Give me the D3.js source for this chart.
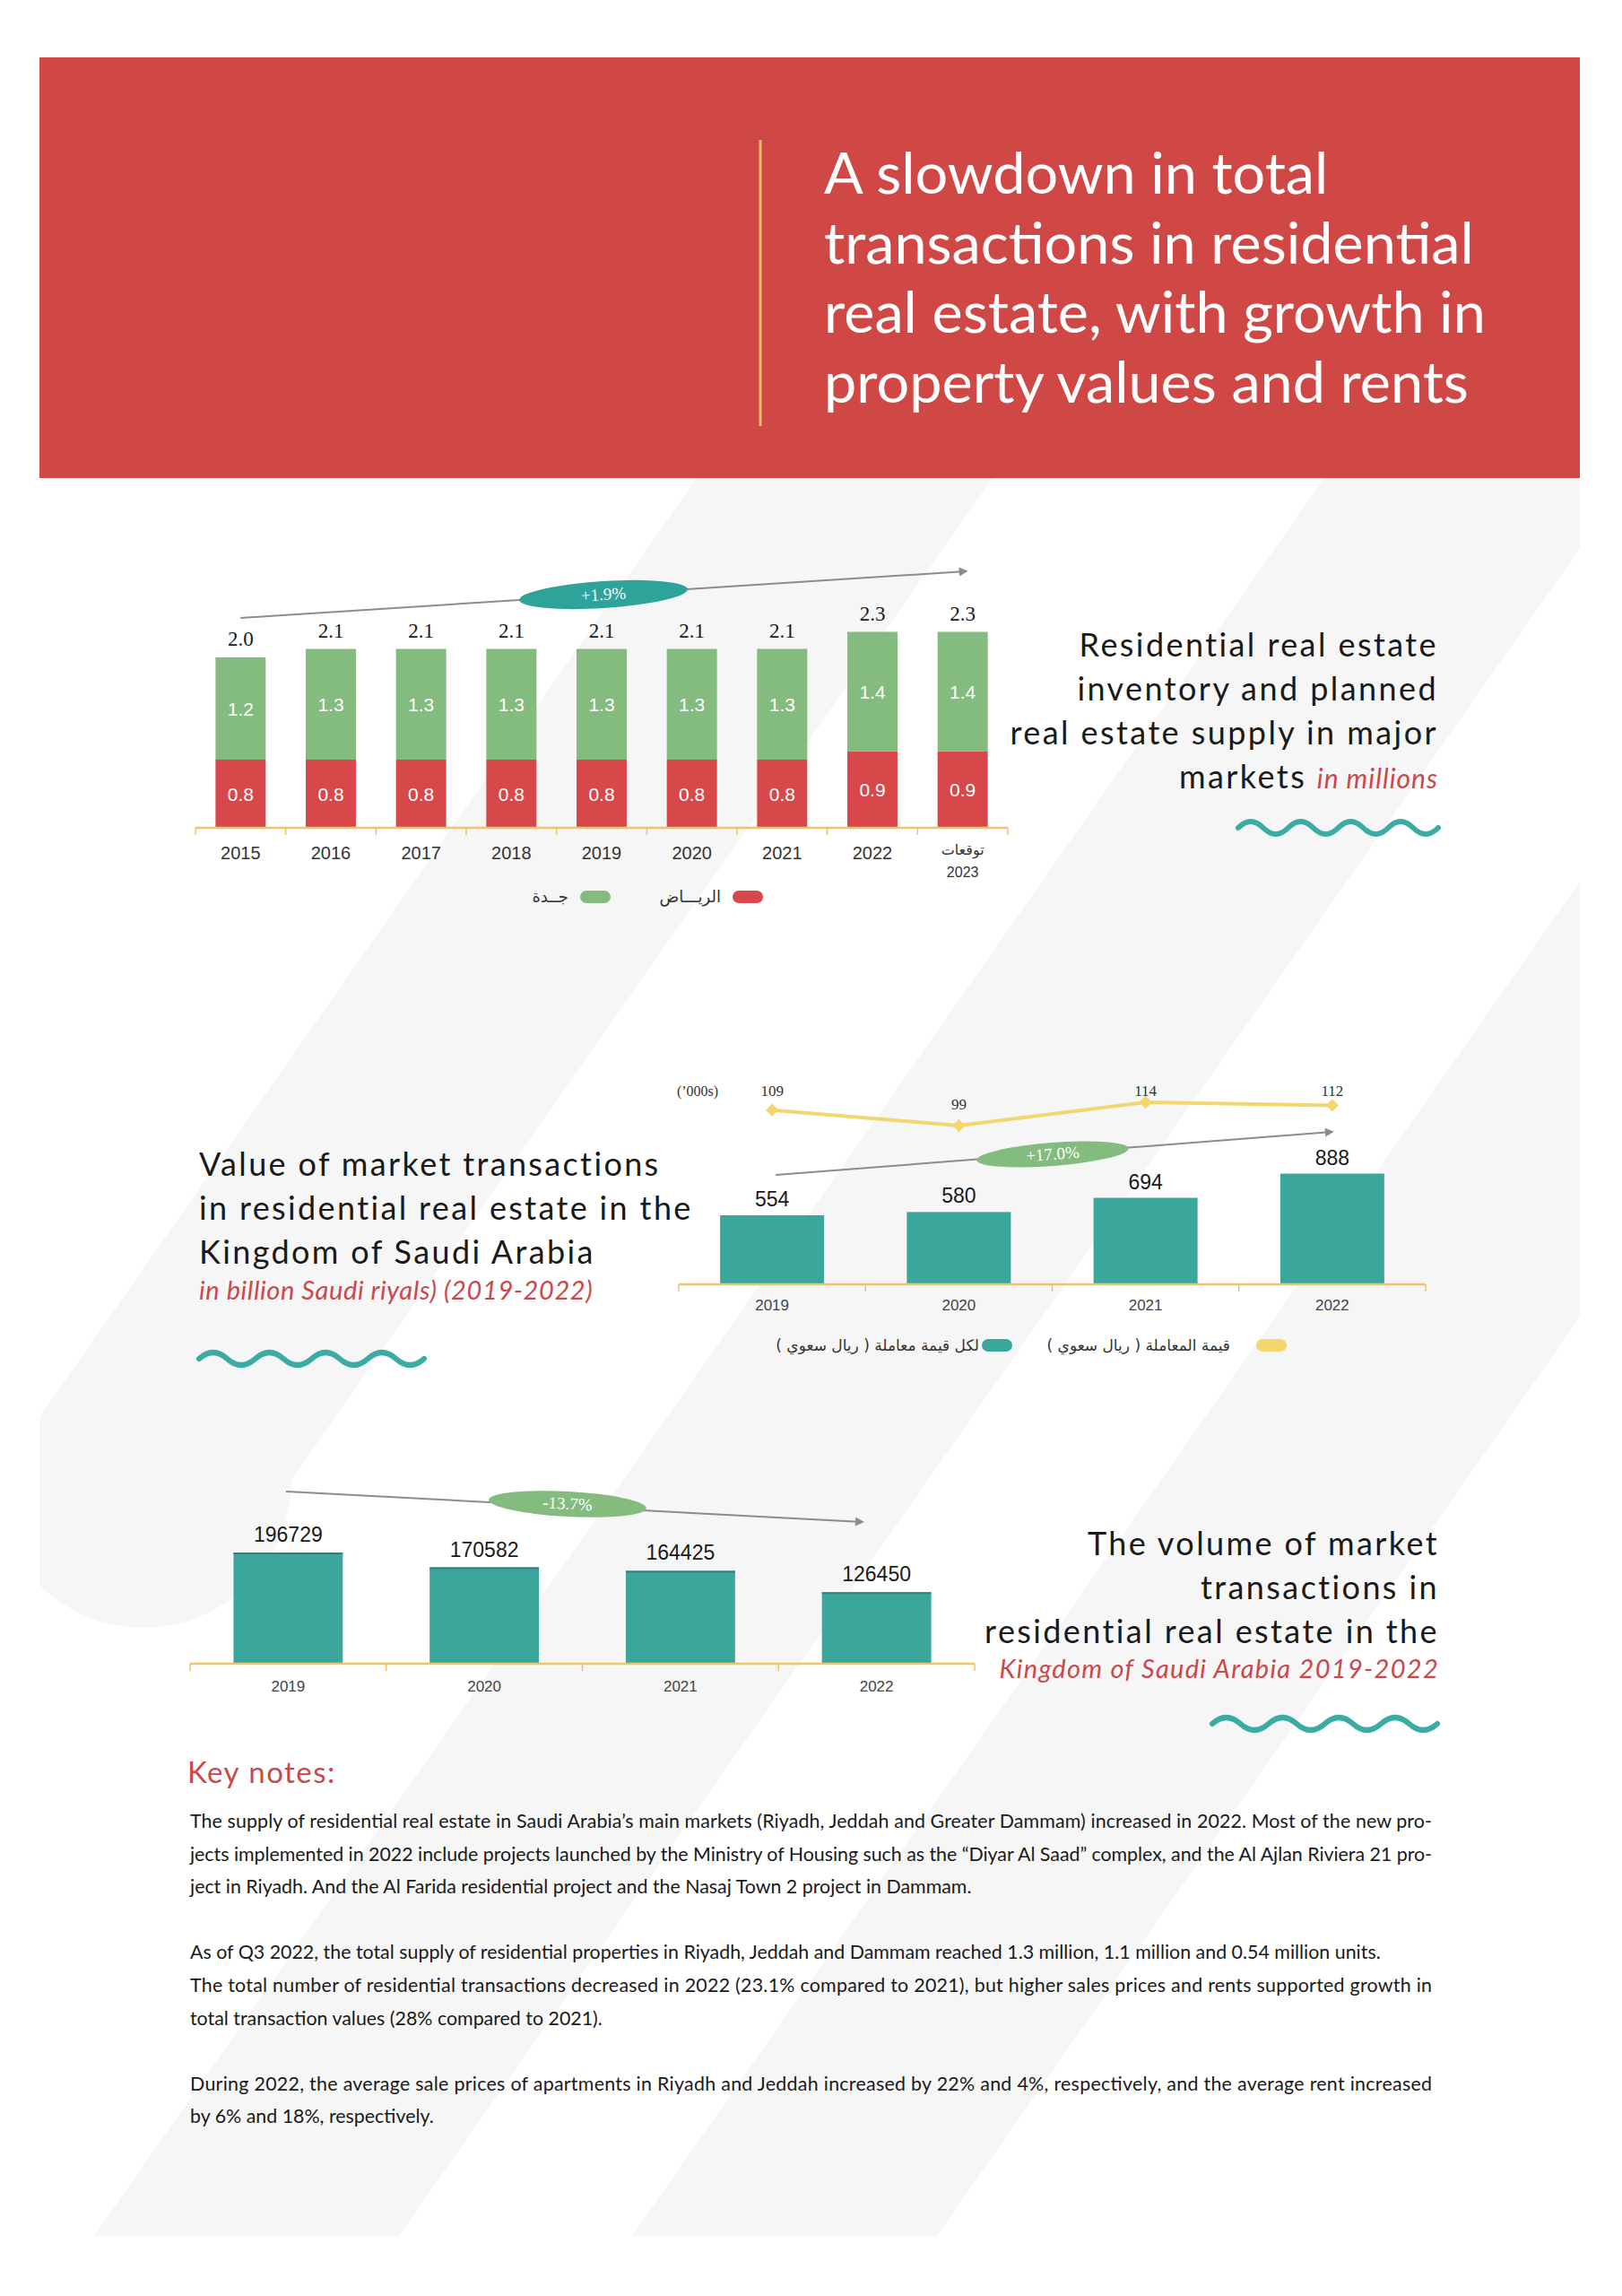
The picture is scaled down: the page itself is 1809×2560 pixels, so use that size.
<!DOCTYPE html>
<html>
<head>
<meta charset="utf-8">
<script src="https://cdn.jsdelivr.net/npm/d3@7"></script>
<style>
  body { margin: 0; background: #fff; }
  svg { display: block; }
</style>
</head>
<body>
<svg id="page" width="1809" height="2560"></svg>
<script>
// ---- data ----
const supplyYears = ['2015', '2016', '2017', '2018', '2019', '2020', '2021', '2022', '2023'];
const supplyYearLabels = [['2015'], ['2016'], ['2017'], ['2018'], ['2019'], ['2020'], ['2021'], ['2022'], ['توقعات', '2023']];
const riyadhSupply = [0.8, 0.8, 0.8, 0.8, 0.8, 0.8, 0.8, 0.9, 0.9];
const jeddahSupply = [1.2, 1.3, 1.3, 1.3, 1.3, 1.3, 1.3, 1.4, 1.4];
const supplyGrowth = '+1.9%';
const supplyLegend = ['الريـــاض', 'جــدة'];

const valueYears = ['2019', '2020', '2021', '2022'];
const transactionValue = [554, 580, 694, 888];      // billion SAR
const valuePerDeal = [109, 99, 114, 112];           // '000s SAR
const valueGrowth = '+17.0%';
const valueLegend = ['لكل قيمة معاملة ( ريال سعوي )', 'قيمة المعاملة ( ريال سعوي )'];

const volumeYears = ['2019', '2020', '2021', '2022'];
const transactionVolume = [196729, 170582, 164425, 126450];
const volumeGrowth = '-13.7%';

const headline = ['A slowdown in total', 'transactions in residential', 'real estate, with growth in', 'property values and rents'];

const notes = [
  ['The supply of residential real estate in Saudi Arabia\u2019s main markets (Riyadh, Jeddah and Greater Dammam) increased in 2022. Most of the new pro-', true],
  ['jects implemented in 2022 include projects launched by the Ministry of Housing such as the \u201cDiyar Al Saad\u201d complex, and the Al Ajlan Riviera 21 pro-', true],
  ['ject in Riyadh. And the Al Farida residential project and the Nasaj Town 2 project in Dammam.', false],
  null,
  ['As of Q3 2022, the total supply of residential properties in Riyadh, Jeddah and Dammam reached 1.3 million, 1.1 million and 0.54 million units.', false],
  ['The total number of residential transactions decreased in 2022 (23.1% compared to 2021), but higher sales prices and rents supported growth in', true],
  ['total transaction values (28% compared to 2021).', false],
  null,
  ['During 2022, the average sale prices of apartments in Riyadh and Jeddah increased by 22% and 4%, respectively, and the average rent increased', true],
  ['by 6% and 18%, respectively.', false]
];

// ---- palette ----
const C = {
  header: '#d04845', gold: '#f0c36a', red: '#d8474a', green: '#84bb7e',
  teal: '#3aa69c', tealDark: '#2c857d', wave: '#3aaca3', yellow: '#f3d66e',
  arrow: '#8c8c8c', ink: '#1a1a1a', label: '#333', accent: '#c9484b', stripe: '#f6f6f6'
};
const SANS = 'Lato, "Open Sans", sans-serif';
const NUM = '"Liberation Sans", Arial, sans-serif';
const SERIF = '"Liberation Serif", "Times New Roman", serif';
const AR = '"DejaVu Sans", sans-serif';

const svg = d3.select('#page');
const defs = svg.append('defs');

defs.append('marker')
  .attr('id', 'arrow')
  .attr('viewBox', '0 0 10 10')
  .attr('refX', 8).attr('refY', 5)
  .attr('markerWidth', 12).attr('markerHeight', 10)
  .attr('markerUnits', 'userSpaceOnUse')
  .attr('orient', 'auto')
  .append('path').attr('d', 'M0,0 L10,5 L0,10 z').attr('fill', C.arrow);

defs.append('clipPath').attr('id', 'pageClip')
  .append('rect').attr('x', 44).attr('y', 533).attr('width', 1718).attr('height', 1960);

// ---- background stripes (decoration): [u0, u1, bottom y] along x + 0.7y ----
const stripes = [[1150, 1480, 1650], [1850, 2190, 2493], [2450, 2790, 2493]];
svg.append('g').attr('clip-path', 'url(#pageClip)')
  .selectAll('path').data(stripes).join('path')
  .attr('fill', C.stripe)
  .attr('d', ([u1, u2, yb]) => {
    const r = (u2 - u1) / 2;
    const end = yb < 2493 ? `A${r},${r} 0 0 1 ${u1 - 0.7 * yb},${yb}` : `L${u1 - 0.7 * yb},${yb}`;
    return `M${u1 - 0.7 * 533},533 L${u2 - 0.7 * 533},533 L${u2 - 0.7 * yb},${yb} ${end} Z`;
  });

// ---- helpers ----
function fitFont(group, node, target) {
  const size = +group.attr('font-size');
  const w = node.getComputedTextLength();
  group.attr('font-size', (size * target / w).toFixed(2));
}

function fitSpacing(group, node, target) {
  const w = node.getComputedTextLength();
  const n = Math.max(1, node.getNumberOfChars() - 1);
  group.attr('letter-spacing', ((target - w) / n).toFixed(2));
}

function wave(x0, x1, y, periods) {
  const half = (x1 - x0) / (periods * 2), amp = 7;
  let d = `M${x0},${y}`;
  for (let i = 0; i < periods * 2; i++) {
    const cx = x0 + (i + 0.5) * half, ex = x0 + (i + 1) * half;
    d += ` Q${cx},${y + (i % 2 ? 2 * amp : -2 * amp)} ${ex},${y}`;
  }
  svg.append('path').attr('d', d).attr('fill', 'none')
    .attr('stroke', C.wave).attr('stroke-width', 6).attr('stroke-linecap', 'round');
}

function titleBlock(lines, x, anchor, baselines, size, accentSize, fitLine, fitWidth, accentSpacing) {
  const g = svg.append('g').attr('font-family', SANS).attr('text-anchor', anchor);
  const nodes = [];
  lines.forEach((parts, i) => {
    const t = g.append('text').attr('x', x).attr('y', baselines[i]);
    parts.forEach(p => {
      const span = t.append('tspan').text(p[0]);
      if (p[1]) span.attr('fill', C.accent).attr('font-style', 'italic').attr('font-size', accentSize)
        .attr('letter-spacing', accentSpacing);
      else span.attr('fill', C.ink).attr('font-size', size);
    });
    nodes.push(t.node());
  });
  fitSpacing(g, nodes[fitLine], fitWidth);
  return g;
}

function trend(x1, y1, x2, y2, cx, cy, rx, ry, fill, label) {
  svg.append('line').attr('x1', x1).attr('y1', y1).attr('x2', x2).attr('y2', y2)
    .attr('stroke', C.arrow).attr('stroke-width', 2).attr('marker-end', 'url(#arrow)');
  const angle = Math.atan2(y2 - y1, x2 - x1) * 180 / Math.PI;
  const g = svg.append('g').attr('transform', `translate(${cx},${cy}) rotate(${angle})`);
  g.append('ellipse').attr('rx', rx).attr('ry', ry).attr('fill', fill);
  g.append('text').attr('y', 6).attr('text-anchor', 'middle')
    .attr('font-family', SERIF).attr('font-size', 19).attr('fill', '#fff').text(label);
}

function baseAxis(x, y0, ticksDown) {
  const g = svg.append('g');
  const [r0, r1] = x.range();
  g.append('line').attr('x1', r0).attr('x2', r1).attr('y1', y0).attr('y2', y0)
    .attr('stroke', C.gold).attr('stroke-width', 2.5);
  const bounds = x.domain().map(d => x(d) - x.step() * x.paddingInner() / 2).concat([r1]);
  g.selectAll('line.tick').data(bounds).join('line').attr('class', 'tick')
    .attr('x1', d => d).attr('x2', d => d).attr('y1', y0).attr('y2', y0 + ticksDown)
    .attr('stroke', C.gold).attr('stroke-width', 1.5);
}

function pill(x, y, color) {
  svg.append('rect').attr('x', x).attr('y', y - 7).attr('width', 34).attr('height', 14)
    .attr('rx', 7).attr('fill', color);
}

function arabic(x, y, text, size) {
  svg.append('text').attr('x', x).attr('y', y).attr('direction', 'rtl')
    .attr('text-anchor', 'start').attr('font-family', AR).attr('font-size', size)
    .attr('fill', C.label).text(text);
}

// ---- header ----
svg.append('rect').attr('x', 44).attr('y', 64).attr('width', 1718).attr('height', 469).attr('fill', C.header);
svg.append('line').attr('x1', 848).attr('x2', 848).attr('y1', 156).attr('y2', 475)
  .attr('stroke', C.gold).attr('stroke-width', 3);

const head = svg.append('g').attr('fill', '#fff').attr('font-family', SANS).attr('font-size', 62);
head.selectAll('text').data(headline).join('text')
  .attr('x', 919).attr('y', (d, i) => 216 + i * 77.5)
  .text(d => d);
fitFont(head, head.selectAll('text').filter((d, i) => i === 1).node(), 725);

// ---- chart 1: residential supply (stacked) ----
{
  const base = 923;
  const table = supplyYears.map((yr, i) => ({ year: yr, riyadh: riyadhSupply[i], jeddah: jeddahSupply[i] }));
  const series = d3.stack().keys(['riyadh', 'jeddah'])(table);
  const x = d3.scaleBand().domain(supplyYears).range([218, 1124]).paddingInner(0.444).paddingOuter(0.222);
  const y = d3.scaleLinear().domain([0, 2.4]).range([base, base - 2.4 * 95]);
  const colors = { riyadh: C.red, jeddah: C.green };

  const g = svg.append('g');
  g.selectAll('g.layer').data(series).join('g').attr('class', 'layer')
    .attr('fill', s => colors[s.key])
    .selectAll('rect').data(s => s).join('rect')
    .attr('x', d => x(d.data.year)).attr('width', x.bandwidth())
    .attr('y', d => y(d[1])).attr('height', d => y(d[0]) - y(d[1]));

  g.selectAll('g.vals').data(series).join('g').attr('class', 'vals')
    .selectAll('text').data(s => s.map(d => [d, s.key])).join('text')
    .attr('x', ([d]) => x(d.data.year) + x.bandwidth() / 2)
    .attr('y', ([d]) => (y(d[0]) + y(d[1])) / 2 + 8)
    .attr('text-anchor', 'middle').attr('font-family', NUM).attr('font-size', 21).attr('fill', '#fff')
    .text(([d, k]) => d.data[k].toFixed(1));

  g.selectAll('text.total').data(table).join('text').attr('class', 'total')
    .attr('x', d => x(d.year) + x.bandwidth() / 2)
    .attr('y', d => y(d.riyadh + d.jeddah) - 13)
    .attr('text-anchor', 'middle').attr('font-family', SERIF).attr('font-size', 23).attr('fill', C.ink)
    .text(d => (d.riyadh + d.jeddah).toFixed(1));

  baseAxis(x, base, 8);
  const lab = g.selectAll('text.year').data(supplyYears).join('text').attr('class', 'year')
    .attr('x', d => x(d) + x.bandwidth() / 2).attr('y', 958)
    .attr('text-anchor', 'middle').attr('fill', C.label);
  lab.each(function (d, i) {
    const parts = supplyYearLabels[i];
    const t = d3.select(this);
    if (parts.length === 1) {
      t.attr('font-family', NUM).attr('font-size', 20).text(parts[0]);
    } else {
      t.attr('y', 953);
      t.append('tspan').attr('font-family', AR).attr('font-size', 16).text(parts[0]);
      t.append('tspan').attr('x', x(d) + x.bandwidth() / 2).attr('dy', 25)
        .attr('font-family', NUM).attr('font-size', 16).text(parts[1]);
    }
  });

  trend(x(supplyYears[0]) + x.bandwidth() / 2, 689, x(supplyYears[8]) + x.bandwidth() / 2 + 4, 637,
    673, 663, 94, 15, '#2ea399', supplyGrowth);

  pill(817, 1000, C.red);
  arabic(804, 1006, supplyLegend[0], 18);
  pill(647, 1000, C.green);
  arabic(634, 1006, supplyLegend[1], 18);

  titleBlock([
    [['Residential real estate']],
    [['inventory and planned']],
    [['real estate supply in major']],
    [['markets '], ['in millions', true]]
  ], 1604, 'end', [732, 781, 830, 879], 36, 30, 2, 475, 1);
  wave(1381, 1604, 923, 4);
}

// ---- chart 2: value of transactions ----
{
  const base = 1432;
  const x = d3.scaleBand().domain(valueYears).range([757, 1590]).paddingInner(0.443).paddingOuter(0.2215);
  const y = d3.scaleLinear().domain([0, 1000]).range([base, base - 139]);
  const y2 = d3.scaleLinear().domain([90, 120]).range([1270.6, 1218.6]);
  const cx = d => x(d) + x.bandwidth() / 2;

  const g = svg.append('g');
  g.selectAll('rect').data(valueYears).join('rect')
    .attr('x', d => x(d)).attr('width', x.bandwidth())
    .attr('y', (d, i) => y(transactionValue[i])).attr('height', (d, i) => base - y(transactionValue[i]))
    .attr('fill', C.teal);
  g.selectAll('text.val').data(valueYears).join('text').attr('class', 'val')
    .attr('x', cx).attr('y', (d, i) => y(transactionValue[i]) - 10)
    .attr('text-anchor', 'middle').attr('font-family', NUM).attr('font-size', 23).attr('fill', C.ink)
    .text((d, i) => transactionValue[i]);

  baseAxis(x, base, 8);
  g.selectAll('text.year').data(valueYears).join('text').attr('class', 'year')
    .attr('x', cx).attr('y', 1461).attr('text-anchor', 'middle')
    .attr('font-family', NUM).attr('font-size', 17).attr('fill', '#444').text(d => d);

  const line = d3.line().x(d => cx(d[0])).y(d => y2(d[1]));
  const pts = valueYears.map((d, i) => [d, valuePerDeal[i]]);
  g.append('path').attr('d', line(pts)).attr('fill', 'none')
    .attr('stroke', C.yellow).attr('stroke-width', 4);
  g.selectAll('path.dia').data(pts).join('path').attr('class', 'dia')
    .attr('d', d3.symbol(d3.symbolDiamond2, 130)())
    .attr('transform', d => `translate(${cx(d[0])},${y2(d[1])})`)
    .attr('fill', C.yellow);
  g.selectAll('text.pt').data(pts).join('text').attr('class', 'pt')
    .attr('x', d => cx(d[0])).attr('y', d => Math.max(y2(d[1]) - 24, 1216) + 6)
    .attr('text-anchor', 'middle').attr('font-family', SERIF).attr('font-size', 17).attr('fill', C.label)
    .text(d => d[1]);
  g.append('text').attr('x', 778).attr('y', 1222).attr('text-anchor', 'middle')
    .attr('font-family', SERIF).attr('font-size', 16).attr('fill', C.label).text('(\u2019000s)');

  trend(cx(valueYears[0]) + 4, 1310, cx(valueYears[3]), 1262, 1174, 1287, 85, 13, C.green, valueGrowth);

  pill(1095, 1500, C.teal);
  arabic(1092, 1506, valueLegend[0], 17);
  pill(1401, 1500, C.yellow);
  arabic(1372, 1506, valueLegend[1], 17);

  titleBlock([
    [['Value of market transactions']],
    [['in residential real estate in the']],
    [['Kingdom of Saudi Arabia']],
    [['in billion Saudi riyals) (2019-2022)', true]]
  ], 222, 'start', [1311, 1360, 1409, 1449], 36, 29, 1, 549, 0.6);
  wave(222, 473, 1515, 4);
}

// ---- chart 3: volume of transactions ----
{
  const base = 1855;
  const x = d3.scaleBand().domain(volumeYears).range([212, 1087]).paddingInner(0.443).paddingOuter(0.2215);
  const y = d3.scaleLinear().domain([0, 200000]).range([base, base - 126]);
  const cx = d => x(d) + x.bandwidth() / 2;

  const g = svg.append('g');
  g.selectAll('rect').data(volumeYears).join('rect')
    .attr('x', d => x(d)).attr('width', x.bandwidth())
    .attr('y', (d, i) => y(transactionVolume[i])).attr('height', (d, i) => base - y(transactionVolume[i]))
    .attr('fill', C.teal);
  g.selectAll('line.cap').data(volumeYears).join('line').attr('class', 'cap')
    .attr('x1', d => x(d)).attr('x2', d => x(d) + x.bandwidth())
    .attr('y1', (d, i) => y(transactionVolume[i]) + 1).attr('y2', (d, i) => y(transactionVolume[i]) + 1)
    .attr('stroke', C.tealDark).attr('stroke-width', 2);
  g.selectAll('text.val').data(volumeYears).join('text').attr('class', 'val')
    .attr('x', cx).attr('y', (d, i) => y(transactionVolume[i]) - 12)
    .attr('text-anchor', 'middle').attr('font-family', NUM).attr('font-size', 23).attr('fill', C.ink)
    .text((d, i) => transactionVolume[i]);

  baseAxis(x, base, 8);
  g.selectAll('text.year').data(volumeYears).join('text').attr('class', 'year')
    .attr('x', cx).attr('y', 1886).attr('text-anchor', 'middle')
    .attr('font-family', NUM).attr('font-size', 17).attr('fill', '#444').text(d => d);

  trend(319, 1663, 962, 1697, 633, 1677, 88, 14, C.green, volumeGrowth);

  titleBlock([
    [['The volume of market']],
    [['transactions in']],
    [['residential real estate in the']],
    [['Kingdom of Saudi Arabia 2019-2022', true]]
  ], 1605, 'end', [1734, 1783, 1832, 1871], 36, 29, 2, 505, 1.3);
  wave(1352, 1603, 1922, 4);
}

// ---- key notes ----
svg.append('text').attr('x', 209).attr('y', 1988).attr('font-family', SANS).attr('font-size', 33)
  .attr('letter-spacing', 1.5).attr('fill', C.accent).text('Key notes:');

{
  const g = svg.append('g').attr('font-family', SANS).attr('font-size', 21).attr('fill', C.ink);
  const rows = notes.map((n, i) => [n, i]).filter(([n]) => n);
  const txt = g.selectAll('text').data(rows).join('text')
    .attr('x', 212).attr('y', ([n, i]) => 2038 + i * 36.6)
    .text(([n]) => n[0]);
  fitFont(g, txt.nodes()[0], 1370);
  txt.filter(([n]) => n[1]).attr('textLength', 1385).attr('lengthAdjust', 'spacing');
}
</script>
</body>
</html>
